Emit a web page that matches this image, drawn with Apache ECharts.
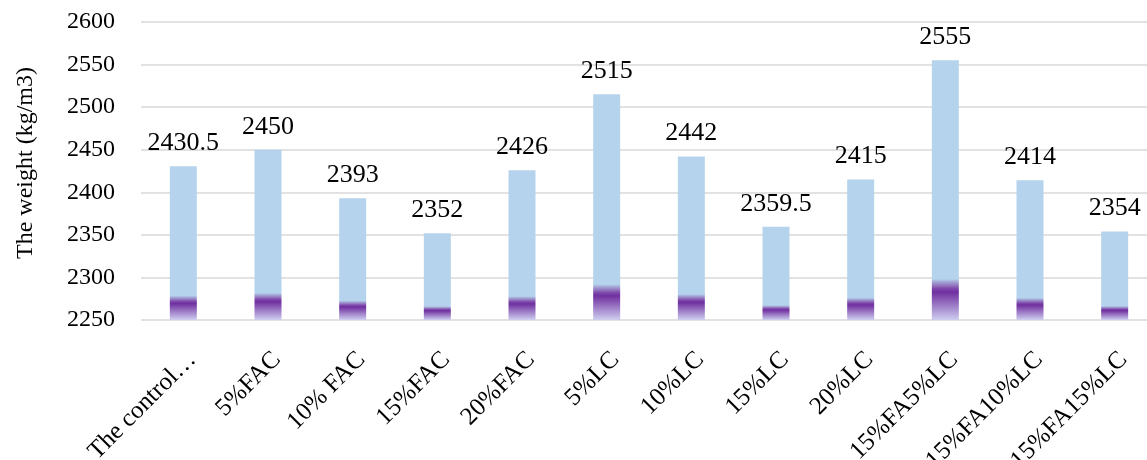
<!DOCTYPE html>
<html>
<head>
<meta charset="utf-8">
<script src="https://cdn.jsdelivr.net/npm/echarts@6/dist/echarts.min.js"></script>
<style>
  *{ margin:0; padding:0; }
  body{ background:#fff; }
  #main{ width:1147px; height:460px; }
</style>
</head>
<body>
<div id="main"></div>
<script>
  // categories as shown on the x axis (first one is cut off in the original)
  var categories = ['The control…', '5%FAC', '10% FAC', '15%FAC', '20%FAC', '5%LC',
                    '10%LC', '15%LC', '20%LC', '15%FA5%LC', '15%FA10%LC', '15%FA15%LC'];
  var weights = [2430.5, 2450, 2393, 2352, 2426, 2515, 2442, 2359.5, 2415, 2555, 2414, 2354];
  var yTicks = { min: 2250, max: 2600, interval: 50 };

  var font = 'Liberation Serif';

  // light blue bar with a purple fade at the bottom
  var barFill = new echarts.graphic.LinearGradient(0, 0, 0, 1, [
    { offset: 0, color: '#b5d3ec' },
    { offset: 0.842, color: '#b5d3ec' },
    { offset: 0.852, color: '#a5a9d8' },
    { offset: 0.866, color: '#9479bf' },
    { offset: 0.88, color: '#7d45ab' },
    { offset: 0.893, color: '#7030a0' },
    { offset: 1, color: '#cfcff0' }
  ]);

  var chart = echarts.init(document.getElementById('main'));
  chart.setOption({
    animation: false,
    // plot area runs a little past the right edge, like the cropped original
    grid: { left: 141, width: 1016, top: 22, bottom: 140, outerBoundsMode: 'none' },
    xAxis: {
      type: 'category',
      data: categories,
      axisLine: { show: false },
      axisTick: { show: false },
      axisLabel: {
        interval: 0,
        rotate: 45,
        margin: 27,
        verticalAlign: 'top',
        color: '#000',
        fontFamily: font,
        fontSize: 25
      }
    },
    yAxis: {
      type: 'value',
      min: yTicks.min,
      max: yTicks.max,
      interval: yTicks.interval,
      name: 'The weight (kg/m3)',
      nameLocation: 'middle',
      nameGap: 103,
      nameTextStyle: { color: '#000', fontFamily: font, fontSize: 24, padding: [0, 0, 0, 16] },
      axisLine: { show: false },
      axisTick: { show: false },
      axisLabel: {
        margin: 26,
        color: '#000',
        fontFamily: font,
        fontSize: 24,
        formatter: function (v) { return String(v); }
      },
      splitLine: { lineStyle: { color: '#d9d9d9', width: 1.5 } }
    },
    series: [{
      type: 'bar',
      data: weights,
      barWidth: 27,
      itemStyle: { color: barFill },
      label: {
        show: true,
        position: 'top',
        distance: 10,
        color: '#000',
        fontFamily: font,
        fontSize: 26
      }
    }]
  });
</script>
</body>
</html>
